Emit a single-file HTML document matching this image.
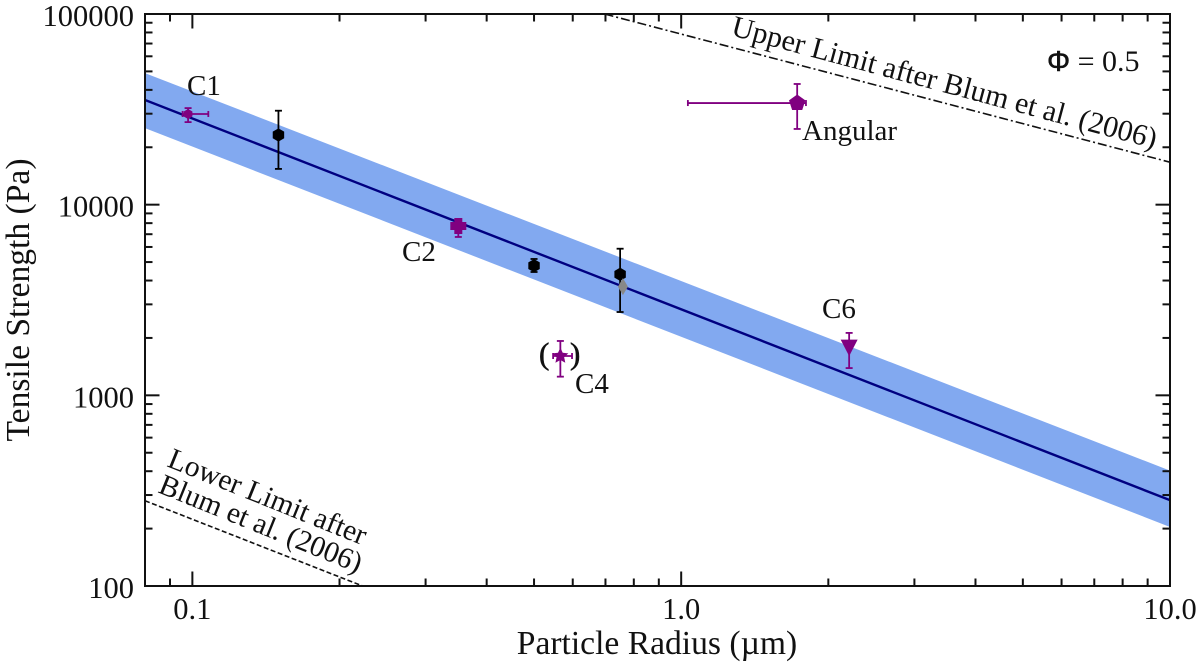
<!DOCTYPE html>
<html lang="en">
<head>
<meta charset="utf-8">
<title>Tensile Strength vs Particle Radius</title>
<style>
html,body{margin:0;padding:0;background:#fff;width:1200px;height:665px;overflow:hidden}
svg{display:block;filter:blur(0.35px)}
text{font-family:"Liberation Serif","Noto Serif CJK SC",serif;fill:#111}
</style>
</head>
<body>
<svg id="chart" width="1200" height="665" viewBox="0 0 1200 665" xmlns="http://www.w3.org/2000/svg">
  <defs><clipPath id="plot-clip"><rect x="145" y="14" width="1025" height="572"/></clipPath></defs>
  <g id="layer-band" clip-path="url(#plot-clip)"></g>
  <g id="layer-lines" clip-path="url(#plot-clip)"></g>
  <g id="layer-points"></g>
  <g id="layer-axes"></g>

  <text x="657" y="654" font-size="33.6" text-anchor="middle">Particle Radius (µm)</text>
  <text transform="translate(29,300) rotate(-90)" font-size="33.6" text-anchor="middle">Tensile Strength (Pa)</text>

  <text x="187" y="95" font-size="29">C1</text>
  <text x="402" y="261" font-size="29">C2</text>
  <text x="575" y="393" font-size="29">C4</text>
  <text x="822" y="318" font-size="29">C6</text>
  <text x="802" y="140" font-size="29">Angular</text>
  <text x="539" y="364" font-size="31" stroke="#111" stroke-width="0.6">(</text>
  <text x="570" y="364" font-size="31" stroke="#111" stroke-width="0.6">)</text>

  <text x="1047" y="71" font-size="30"><tspan font-family="Liberation Sans" font-size="29" stroke="#111" stroke-width="0.5">Φ</tspan> = 0.5</text>

  <text transform="translate(730,35) rotate(15)" font-size="30">Upper Limit after Blum et al. (2006)</text>
  <text transform="translate(166,466) rotate(22)" font-size="29.5">Lower Limit after</text>
  <text transform="translate(157,492) rotate(22)" font-size="29.5">Blum et al. (2006)</text>
</svg>

<script>
// Axis data
const xMajorTicks = [0.1, 1, 10];
const xMajorLabels = ["0.1", "1.0", "10.0"];
const xMinorTicks = [0.09, 0.2, 0.3, 0.4, 0.5, 0.6, 0.7, 0.8, 0.9, 2, 3, 4, 5, 6, 7, 8, 9];
const yMajorTicks = [100, 1000, 10000, 100000];
const yMajorLabels = ["100", "1000", "10000", "100000"];
const yMinorTicks = [200, 300, 400, 500, 600, 700, 800, 900, 2000, 3000, 4000, 5000, 6000, 7000, 8000, 9000, 20000, 30000, 40000, 50000, 60000, 70000, 80000, 90000];

// Fit line and band
const fitRadius = [0.08, 10];
const fitStrength = [35400, 282];
const bandUpper = [49000, 403];
const bandLower = [25200, 204];

// Blum et al. limits
const upperLimitRadius = [0.697, 10];
const upperLimitStrength = [100000, 16700];
const lowerLimitRadius = [0.08, 0.223];
const lowerLimitStrength = [280, 100];

// Measurements
const pointNames = ["c1", "black-a", "c2", "black-b", "black-c", "gray", "c4", "angular", "c6"];
const pointRadius = [0.098, 0.15, 0.35, 0.5, 0.75, 0.76, 0.566, 1.727, 2.206];
const pointStrength = [29900, 23200, 7730, 4785, 4315, 3715, 1608, 34120, 1800];
const strengthHigh = [32100, 31100, 8410, 5190, 5875, 3715, 1928, 42950, 2125];
const strengthLow = [27100, 15400, 6770, 4435, 2735, 3715, 1253, 24950, 1390];
const radiusLow = [0.0955, 0.15, 0.345, 0.5, 0.75, 0.76, 0.547, 1.032, 2.206];
const radiusHigh = [0.1078, 0.15, 0.355, 0.5, 0.75, 0.76, 0.598, 1.80, 2.206];
const pointMarkers = ["hexsmall", "hex", "plus", "hex", "hex", "diamond", "star", "pentagon", "triangle"];
const pointColors = ["#800080", "#000000", "#800080", "#000000", "#000000", "#888888", "#800080", "#800080", "#800080"];

const NS = "http://www.w3.org/2000/svg";
const plotLeft = 145, plotRight = 1170, plotTop = 14, plotBottom = 586;
const xMinLog = Math.log10(0.08), xMaxLog = 1, yMinLog = 2, yMaxLog = 5;
function xScale(v) { return plotLeft + (Math.log10(v) - xMinLog) / (xMaxLog - xMinLog) * (plotRight - plotLeft); }
function yScale(v) { return plotBottom - (Math.log10(v) - yMinLog) / (yMaxLog - yMinLog) * (plotBottom - plotTop); }
function make(tag) { return document.createElementNS(NS, tag); }
function setAll(el, props) { for (const k in props) el.setAttribute(k, props[k]); return el; }

const bandLayer = document.getElementById("layer-band");
const lineLayer = document.getElementById("layer-lines");
const pointLayer = document.getElementById("layer-points");
const axesLayer = document.getElementById("layer-axes");

// Band
const bandPts = [];
fitRadius.forEach((r, i) => bandPts.push(xScale(r) + "," + yScale(bandUpper[i])));
fitRadius.slice().reverse().forEach((r, i) => bandPts.push(xScale(r) + "," + yScale(bandLower[bandLower.length - 1 - i])));
const band = setAll(make("polygon"), { points: bandPts.join(" "), fill: "#82a9f0" });


bandLayer.appendChild(band);

function polyPoints(xs, ys) { return xs.map((r, i) => xScale(r) + "," + yScale(ys[i])).join(" "); }

const fitLine = setAll(make("polyline"), { points: polyPoints(fitRadius, fitStrength), fill: "none", stroke: "#000080", "stroke-width": 2.4 });


lineLayer.appendChild(fitLine);

const upperLine = setAll(make("polyline"), { points: polyPoints(upperLimitRadius, upperLimitStrength), fill: "none", stroke: "#111", "stroke-width": 1.6, "stroke-dasharray": "9 3 2 3" });


lineLayer.appendChild(upperLine);

const lowerLine = setAll(make("polyline"), { points: polyPoints(lowerLimitRadius, lowerLimitStrength), fill: "none", stroke: "#111", "stroke-width": 1.6, "stroke-dasharray": "5 2.5" });


lineLayer.appendChild(lowerLine);

// Marker shape outlines, relative to the point centre
function regular(n, r, startDeg) {
  const out = [];
  for (let i = 0; i < n; i++) {
    const a = (startDeg + i * 360 / n) * Math.PI / 180;
    out.push([r * Math.cos(a), r * Math.sin(a)]);
  }
  return out;
}
function star(r, inner) {
  const out = [];
  for (let i = 0; i < 10; i++) {
    const a = (-90 + i * 36) * Math.PI / 180;
    const q = i % 2 ? inner : r;
    out.push([q * Math.cos(a), q * Math.sin(a)]);
  }
  return out;
}
function markerShape(kind) {
  if (kind === "hex") return regular(6, 6.6, -90);
  if (kind === "hexsmall") return regular(6, 5, -90);
  if (kind === "pentagon") return regular(5, 8.6, -90);
  if (kind === "star") return star(8.4, 4);
  if (kind === "diamond") return [[0, -8.5], [5, 0], [0, 8.5], [-5, 0]];
  if (kind === "triangle") return [[-8.5, -7], [8.5, -7], [0, 9.5]];
  if (kind === "plus") return [[-4, -8], [4, -8], [4, -4], [8, -4], [8, 4], [4, 4], [4, 8], [-4, 8], [-4, 4], [-8, 4], [-8, -4], [-4, -4]];
  return [];
}

// Points and error bars
pointRadius.forEach((r, i) => {
  const cx = xScale(r), cy = yScale(pointStrength[i]), color = pointColors[i];
  const g = make("g");
  
  
  const segs = [];
  const yHi = yScale(strengthHigh[i]), yLo = yScale(strengthLow[i]);
  const xLo = xScale(radiusLow[i]), xHi = xScale(radiusHigh[i]);
  if (strengthHigh[i] !== strengthLow[i]) {
    segs.push([cx, yHi, cx, yLo], [cx - 3.5, yHi, cx + 3.5, yHi], [cx - 3.5, yLo, cx + 3.5, yLo]);
  }
  if (radiusHigh[i] !== radiusLow[i]) {
    segs.push([xLo, cy, xHi, cy], [xLo, cy - 3, xLo, cy + 3], [xHi, cy - 3, xHi, cy + 3]);
  }
  segs.forEach(s => {
    const seg = setAll(make("line"), { x1: s[0], y1: s[1], x2: s[2], y2: s[3], stroke: color, "stroke-width": 1.8 });
    
    
    g.appendChild(seg);
  });
  const shape = markerShape(pointMarkers[i]).map(p => (cx + p[0]) + "," + (cy + p[1])).join(" ");
  const mark = setAll(make("polygon"), { points: shape, fill: color });
  
  
  g.appendChild(mark);
  pointLayer.appendChild(g);
});

// Frame
const frame = setAll(make("rect"), { x: plotLeft, y: plotTop, width: plotRight - plotLeft, height: plotBottom - plotTop, fill: "none", stroke: "#111", "stroke-width": 2 });


axesLayer.appendChild(frame);

function tick(x1, y1, x2, y2) {
  const t = setAll(make("line"), { x1: x1, y1: y1, x2: x2, y2: y2, stroke: "#111", "stroke-width": 2 });
  
  
  axesLayer.appendChild(t);
}
const majorLen = 14.5, minorLen = 7.5;
xMajorTicks.forEach(v => {
  const x = xScale(v);
  tick(x, plotBottom, x, plotBottom - majorLen);
  tick(x, plotTop, x, plotTop + majorLen);
});
xMinorTicks.forEach(v => {
  const x = xScale(v);
  tick(x, plotBottom, x, plotBottom - minorLen);
  tick(x, plotTop, x, plotTop + minorLen);
});
yMajorTicks.forEach(v => {
  const y = yScale(v);
  tick(plotLeft, y, plotLeft + majorLen, y);
  tick(plotRight, y, plotRight - majorLen, y);
});
yMinorTicks.forEach(v => {
  const y = yScale(v);
  tick(plotLeft, y, plotLeft + minorLen, y);
  tick(plotRight, y, plotRight - minorLen, y);
});

xMajorTicks.forEach((v, i) => {
  const t = setAll(make("text"), { x: xScale(v), y: 619, "font-size": 30.5, "text-anchor": "middle" });
  
  
  t.textContent = xMajorLabels[i];
  axesLayer.appendChild(t);
});
yMajorTicks.forEach((v, i) => {
  const t = setAll(make("text"), { x: 134, y: yScale(v) + 12, "font-size": 30.5, "text-anchor": "end" });
  
  
  t.textContent = yMajorLabels[i];
  axesLayer.appendChild(t);
});
</script>
</body>
</html>
